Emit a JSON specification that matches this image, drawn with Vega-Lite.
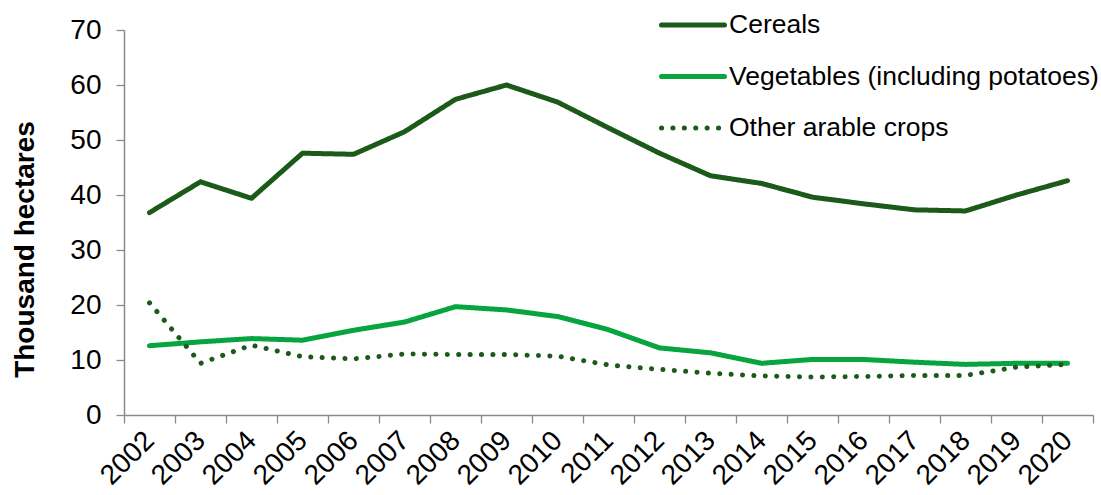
{
  "$schema": "https://vega.github.io/schema/vega-lite/v6.json",
  "width": 969,
  "height": 385,
  "autosize": {"type": "none"},
  "padding": {"left": 124, "top": 30, "right": 8, "bottom": 80},
  "background": "white",
  "config": {"view": {"stroke": null}, "font": "Liberation Sans"},
  "data": {
    "values": [
      {"year": 2002, "crop": "Cereals", "value": 36.8},
      {"year": 2003, "crop": "Cereals", "value": 42.4},
      {"year": 2004, "crop": "Cereals", "value": 39.4},
      {"year": 2005, "crop": "Cereals", "value": 47.6},
      {"year": 2006, "crop": "Cereals", "value": 47.4},
      {"year": 2007, "crop": "Cereals", "value": 51.5},
      {"year": 2008, "crop": "Cereals", "value": 57.4},
      {"year": 2009, "crop": "Cereals", "value": 60.0},
      {"year": 2010, "crop": "Cereals", "value": 56.9},
      {"year": 2011, "crop": "Cereals", "value": 52.2},
      {"year": 2012, "crop": "Cereals", "value": 47.6},
      {"year": 2013, "crop": "Cereals", "value": 43.5},
      {"year": 2014, "crop": "Cereals", "value": 42.1},
      {"year": 2015, "crop": "Cereals", "value": 39.6},
      {"year": 2016, "crop": "Cereals", "value": 38.4},
      {"year": 2017, "crop": "Cereals", "value": 37.3},
      {"year": 2018, "crop": "Cereals", "value": 37.1},
      {"year": 2019, "crop": "Cereals", "value": 40.0},
      {"year": 2020, "crop": "Cereals", "value": 42.6},
      {"year": 2002, "crop": "\u00a0Vegetables (including potatoes)", "value": 12.6},
      {"year": 2003, "crop": "\u00a0Vegetables (including potatoes)", "value": 13.3},
      {"year": 2004, "crop": "\u00a0Vegetables (including potatoes)", "value": 13.9},
      {"year": 2005, "crop": "\u00a0Vegetables (including potatoes)", "value": 13.6},
      {"year": 2006, "crop": "\u00a0Vegetables (including potatoes)", "value": 15.4},
      {"year": 2007, "crop": "\u00a0Vegetables (including potatoes)", "value": 16.9},
      {"year": 2008, "crop": "\u00a0Vegetables (including potatoes)", "value": 19.7},
      {"year": 2009, "crop": "\u00a0Vegetables (including potatoes)", "value": 19.1},
      {"year": 2010, "crop": "\u00a0Vegetables (including potatoes)", "value": 17.9},
      {"year": 2011, "crop": "\u00a0Vegetables (including potatoes)", "value": 15.5},
      {"year": 2012, "crop": "\u00a0Vegetables (including potatoes)", "value": 12.2},
      {"year": 2013, "crop": "\u00a0Vegetables (including potatoes)", "value": 11.3},
      {"year": 2014, "crop": "\u00a0Vegetables (including potatoes)", "value": 9.4},
      {"year": 2015, "crop": "\u00a0Vegetables (including potatoes)", "value": 10.1},
      {"year": 2016, "crop": "\u00a0Vegetables (including potatoes)", "value": 10.1},
      {"year": 2017, "crop": "\u00a0Vegetables (including potatoes)", "value": 9.6},
      {"year": 2018, "crop": "\u00a0Vegetables (including potatoes)", "value": 9.2},
      {"year": 2019, "crop": "\u00a0Vegetables (including potatoes)", "value": 9.4},
      {"year": 2020, "crop": "\u00a0Vegetables (including potatoes)", "value": 9.4},
      {"year": 2002, "crop": "Other arable crops", "value": 20.4},
      {"year": 2003, "crop": "Other arable crops", "value": 9.4},
      {"year": 2004, "crop": "Other arable crops", "value": 12.7},
      {"year": 2005, "crop": "Other arable crops", "value": 10.6},
      {"year": 2006, "crop": "Other arable crops", "value": 10.2},
      {"year": 2007, "crop": "Other arable crops", "value": 11.1},
      {"year": 2008, "crop": "Other arable crops", "value": 11.0},
      {"year": 2009, "crop": "Other arable crops", "value": 11.0},
      {"year": 2010, "crop": "Other arable crops", "value": 10.7},
      {"year": 2011, "crop": "Other arable crops", "value": 9.1},
      {"year": 2012, "crop": "Other arable crops", "value": 8.3},
      {"year": 2013, "crop": "Other arable crops", "value": 7.6},
      {"year": 2014, "crop": "Other arable crops", "value": 7.1},
      {"year": 2015, "crop": "Other arable crops", "value": 6.9},
      {"year": 2016, "crop": "Other arable crops", "value": 7.0},
      {"year": 2017, "crop": "Other arable crops", "value": 7.2},
      {"year": 2018, "crop": "Other arable crops", "value": 7.2},
      {"year": 2019, "crop": "Other arable crops", "value": 8.7},
      {"year": 2020, "crop": "Other arable crops", "value": 9.2}
    ]
  },
  "mark": {"type": "line", "strokeWidth": 5, "strokeCap": "round", "strokeJoin": "round"},
  "encoding": {
    "x": {
      "field": "year",
      "type": "quantitative",
      "scale": {"domain": [2001.5, 2020.5], "nice": false, "zero": false},
      "axis": {
        "values": [2001.5, 2002.5, 2003.5, 2004.5, 2005.5, 2006.5, 2007.5, 2008.5, 2009.5, 2010.5, 2011.5, 2012.5, 2013.5, 2014.5, 2015.5, 2016.5, 2017.5, 2018.5, 2019.5, 2020.5],
        "labelExpr": "datum.value < 2020 ? format(datum.value + 0.5, 'd') : ''",
        "labelOffset": 25.5,
        "labelAngle": -45,
        "labelAlign": "right",
        "labelBaseline": "middle",
        "labelFontSize": 28,
        "labelColor": "#000000",
        "labelPadding": 13,
        "labelFlush": false,
        "labelOverlap": false,
        "labelBound": false,
        "tickSize": 8,
        "tickWidth": 1.3,
        "tickColor": "#8a8a8a",
        "domainColor": "#8a8a8a",
        "domainWidth": 1.5,
        "grid": false,
        "title": null
      }
    },
    "y": {
      "field": "value",
      "type": "quantitative",
      "scale": {"domain": [0, 70], "nice": false},
      "axis": {
        "values": [0, 10, 20, 30, 40, 50, 60, 70],
        "title": "Thousand hectares",
        "titleFontSize": 28,
        "titleFontWeight": "bold",
        "titleColor": "#000000",
        "titleAngle": -90,
        "titleAlign": "center",
        "titleBaseline": "middle",
        "titleX": -99,
        "titleY": 219,
        "labelFontSize": 28,
        "labelColor": "#000000",
        "labelPadding": 15,
        "tickSize": 8,
        "tickWidth": 1.3,
        "tickColor": "#8a8a8a",
        "domainColor": "#8a8a8a",
        "domainWidth": 1.5,
        "grid": false
      }
    },
    "color": {
      "field": "crop",
      "type": "nominal",
      "scale": {
        "domain": ["Cereals", "\u00a0Vegetables (including potatoes)", "Other arable crops"],
        "range": ["#1B5A18", "#07A43F", "#1B5A18"]
      },
      "legend": {
        "orient": "none",
        "legendX": 535,
        "legendY": -39,
        "title": null,
        "symbolType": "stroke",
        "symbolSize": 3969,
        "symbolStrokeWidth": 5,
        "labelFontSize": 26.5,
        "labelLimit": 600,
        "labelColor": "#000000",
        "labelOffset": 2,
        "rowPadding": 3.5,
        "encode": {"symbols": {"update": {"strokeCap": {"value": "round"}}}}
      }
    },
    "strokeDash": {
      "field": "crop",
      "type": "nominal",
      "scale": {
        "domain": ["Cereals", "\u00a0Vegetables (including potatoes)", "Other arable crops"],
        "range": [[1, 0], [1, 0], [0.1, 11.3]]
      },
      "legend": {
        "orient": "none",
        "legendX": 535,
        "legendY": -39,
        "title": null,
        "symbolType": "stroke",
        "symbolSize": 3969,
        "symbolStrokeWidth": 5,
        "labelFontSize": 26.5,
        "labelLimit": 600,
        "labelColor": "#000000",
        "labelOffset": 2,
        "rowPadding": 3.5,
        "encode": {"symbols": {"update": {"strokeCap": {"value": "round"}}}}
      }
    }
  }
}
